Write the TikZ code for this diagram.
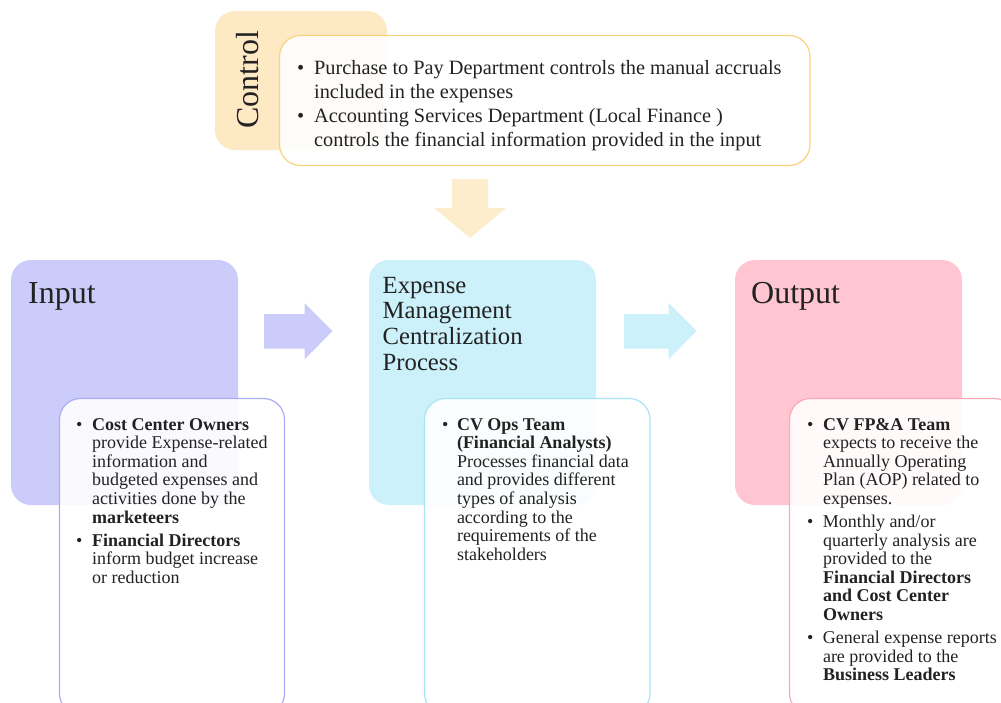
\documentclass[tikz,border=0pt]{standalone}
\usepackage{fontspec}
\setmainfont{Liberation Serif}
\definecolor{ink}{HTML}{222222}
\definecolor{ctrlfill}{HTML}{FDE9C3}
\definecolor{ctrlarrow}{HTML}{FEEDCC}
\definecolor{ctrlline}{HTML}{F9D27C}
\definecolor{infill}{HTML}{CCCCFA}
\definecolor{inline}{HTML}{ABABF6}
\definecolor{midfill}{HTML}{CCF1FB}
\definecolor{midline}{HTML}{A8E4F8}
\definecolor{outfill}{HTML}{FFC6D2}
\definecolor{outline}{HTML}{F8A9BA}
\newcommand{\bul}[1]{\makebox[#1][l]{\textbullet}}
\begin{document}
\begin{tikzpicture}[x=1pt,y=-1pt,
  back/.style={rounded corners=20pt, draw=none, inner sep=0pt, outer sep=0pt, anchor=north west},
  front/.style={rounded corners=21pt, fill=white, fill opacity=0.9, line width=1.2pt,
                inner sep=0pt, outer sep=0pt, anchor=north west},
  heading/.style={inner sep=0pt, anchor=base west, text=ink, font=\fontsize{32}{38}\selectfont},
  bullets/.style={inner sep=0pt, anchor=base west, text=ink, font=\fontsize{18}{18.6}\selectfont},
]
\clip (0,0) rectangle (1001,702);
\fill[white] (0,0) rectangle (1001,702);

% control stage
\node[back, fill=ctrlfill, minimum width=172pt, minimum height=139pt] (ctrlback) at (215,11) {};
\node[front, draw=ctrlline, minimum width=530.5pt, minimum height=130pt] (ctrlfront) at (279.5,35.5) {};
\node[rotate=90, anchor=base, inner sep=0pt, text=ink, font=\fontsize{32}{38}\selectfont] (ctrltitle) at (258,80) {Control};
\node[inner sep=0pt, anchor=base west, text=ink, font=\fontsize{20.3}{24.3}\selectfont] (ctrltext) at (297,74) {%
\begin{tabular}[t]{@{}l@{}l@{}}
\bul{17pt} & Purchase to Pay Department controls the manual accruals\\
 & included in the expenses\\
\bul{17pt} & Accounting Services Department (Local Finance )\\
 & controls the financial information provided in the input
\end{tabular}};

% control arrow pointing down to the process
\fill[ctrlarrow] (452,179) -- (488,179) -- (488,208) -- (506,208) -- (470,238)
  -- (434,208) -- (452,208) -- cycle;

% input stage
\node[back, fill=infill, minimum width=227pt, minimum height=245pt] (inback) at (11,260) {};
\node[heading] (intitle) at (28,303.3) {Input};
\node[front, draw=inline, minimum width=225pt, minimum height=316pt] (infront) at (59.5,398.5) {};
\node[bullets] (intext) at (76,430) {%
\begin{tabular}[t]{@{}l@{}l@{}}
\bul{16pt} & \textbf{Cost Center Owners}\\
 & provide Expense-related\\
 & information and\\
 & budgeted expenses and\\
 & activities done by the\\
 & \textbf{marketeers}\\[4.4pt]
\bul{16pt} & \textbf{Financial Directors}\\
 & inform budget increase\\
 & or reduction
\end{tabular}};
\fill[infill] (264,314) -- (304.5,314) -- (304.5,303) -- (332.5,331) -- (304.5,359.5)
  -- (304.5,348.5) -- (264,348.5) -- cycle;

% process stage
\node[back, fill=midfill, minimum width=227pt, minimum height=245pt] (midback) at (369,260) {};
\node[inner sep=0pt, anchor=base west, text=ink, font=\fontsize{24.7}{25.6}\selectfont] (midtitle) at (382.5,293.3) {%
\begin{tabular}[t]{@{}l@{}}
Expense\\ Management\\ Centralization\\ Process
\end{tabular}};
\node[front, draw=midline, minimum width=225.5pt, minimum height=316pt] (midfront) at (424.5,398.5) {};
\node[bullets] (midtext) at (442,430) {%
\begin{tabular}[t]{@{}l@{}l@{}}
\bul{14.8pt} & \textbf{CV Ops Team}\\
 & \textbf{(Financial Analysts)}\\
 & Processes financial data\\
 & and provides different\\
 & types of analysis\\
 & according to the\\
 & requirements of the\\
 & stakeholders
\end{tabular}};
\fill[midfill] (624,314) -- (668.5,314) -- (668.5,303) -- (696.5,331) -- (668.5,359.5)
  -- (668.5,348.5) -- (624,348.5) -- cycle;

% output stage
\node[back, fill=outfill, minimum width=227pt, minimum height=245pt] (outback) at (735,260) {};
\node[heading] (outtitle) at (751,303.3) {Output};
\node[front, draw=outline, minimum width=226pt, minimum height=316pt] (outfront) at (789.5,398.5) {};
\node[bullets] (outtext) at (807,430) {%
\begin{tabular}[t]{@{}l@{}l@{}}
\bul{15.8pt} & \textbf{CV FP\&A Team}\\
 & expects to receive the\\
 & Annually Operating\\
 & Plan (AOP) related to\\
 & expenses.\\[4.4pt]
\bul{15.8pt} & Monthly and/or\\
 & quarterly analysis are\\
 & provided to the\\
 & \textbf{Financial Directors}\\
 & \textbf{and Cost Center}\\
 & \textbf{Owners}\\[4.4pt]
\bul{15.8pt} & General expense reports\\
 & are provided to the\\
 & \textbf{Business Leaders}
\end{tabular}};
\end{tikzpicture}
\end{document}
